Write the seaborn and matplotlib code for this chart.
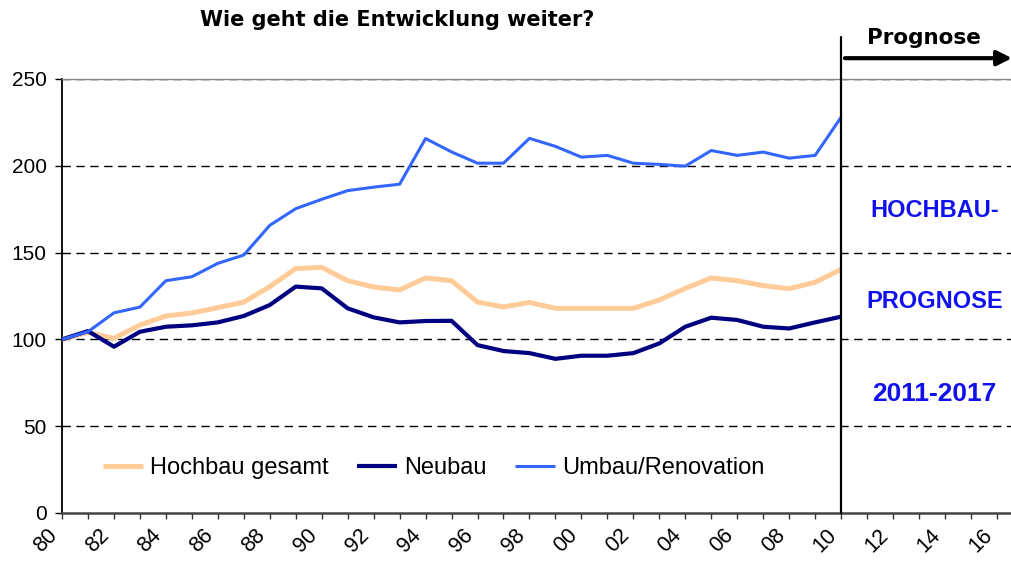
import numpy as np
import pandas as pd
import matplotlib
matplotlib.use("Agg")
import matplotlib.pyplot as plt
import seaborn as sns

years = list(range(1980, 2011))
hochbau = [100, 104, 100.6, 108.3, 113.5, 115.2, 118.3, 121.5, 130.4, 140.8, 141.5,
           133.8, 130.2, 128.5, 135.4, 133.8, 121.5, 118.7, 121.3, 117.9, 117.9,
           117.9, 117.9, 122.7, 129.4, 135.4, 133.8, 131.0, 129.2, 132.9, 140.4]
neubau = [100, 104.8, 95.8, 104.4, 107.3, 108.1, 109.8, 113.5, 119.8, 130.4, 129.4,
          117.9, 112.7, 109.8, 110.6, 110.7, 96.7, 93.3, 92.1, 88.8, 90.6,
          90.6, 92.1, 97.7, 107.3, 112.5, 111.2, 107.3, 106.3, 109.8, 113.1]
umbau = [100, 104.4, 115.3, 118.6, 133.8, 136.1, 143.8, 148.6, 165.7, 175.3, 180.7,
         185.7, 187.7, 189.4, 215.7, 208.0, 201.5, 201.5, 215.8, 211.2, 205.0,
         206.0, 201.5, 200.8, 199.8, 208.8, 206.0, 207.9, 204.4, 206.0, 228.0]
series_names = ["Hochbau gesamt", "Neubau", "Umbau/Renovation"]
colors = ["#FFCC99", "#000080", "#3366FF"]
widths = [3.6, 3.0, 2.2]
yticks = [0, 50, 100, 150, 200, 250]
xlabel_years = list(range(1980, 2017, 2))
xminor_years = list(range(1981, 2017, 2))
prognose_start = 2010
side_texts = ["HOCHBAU-", "PROGNOSE", "2011-2017"]
side_y = [174.5, 122.1, 68.5]
side_sizes = [17, 17, 19]

df = pd.DataFrame({
    "Jahr": years * 3,
    "Index": hochbau + neubau + umbau,
    "Serie": [series_names[0]] * len(years) + [series_names[1]] * len(years) + [series_names[2]] * len(years),
})

sns.set_style("white")
plt.rcParams["font.family"] = ["Liberation Sans", "DejaVu Sans"]
plt.rcParams["text.color"] = "black"
plt.rcParams["xtick.color"] = "black"
plt.rcParams["ytick.color"] = "black"
plt.rcParams["axes.labelcolor"] = "black"

fig = plt.figure(figsize=(10.12, 5.65), dpi=100)
ax = fig.add_axes([62 / 1012, 1 - 513 / 565, 1 - 62 / 1012, (513 - 79) / 565])

for name, col, lw in zip(series_names, colors, widths):
    sns.lineplot(data=df[df["Serie"] == name], x="Jahr", y="Index", color=col,
                 linewidth=lw, ax=ax, label=name, legend=False, zorder=3,
                 solid_capstyle="butt")

ax.set_xlim(1980, 2016.58)
ax.set_ylim(0, 250)
ax.set_xlabel("")
ax.set_ylabel("")

# grid lines
for yv in yticks[1:]:
    ax.axhline(yv, color="black", lw=1.0, ls=(0, (6, 4)), zorder=1)

ax.set_yticks(yticks)
ax.set_yticklabels([str(v) for v in yticks])
ax.set_xticks(xlabel_years)
ax.set_xticklabels([f"{y % 100:02d}" for y in xlabel_years], rotation=45, ha="right", va="top")
ax.set_xticks(xminor_years, minor=True)
ax.tick_params(axis="y", which="major", direction="out", length=5, width=1, color="black",
               labelcolor="black", labelsize=15, pad=6, left=True)
ax.tick_params(axis="x", which="both", direction="out", length=4.5, width=1, color="#333333",
               labelcolor="black", labelsize=15.5, pad=4, bottom=True)

ax.spines["right"].set_visible(False)
ax.spines["top"].set_color("#888888")
ax.spines["top"].set_linewidth(1.0)
ax.spines["left"].set_color("black")
ax.spines["left"].set_linewidth(1.3)
ax.spines["bottom"].set_color("#444444")
ax.spines["bottom"].set_linewidth(1.8)

# forecast divider
ax.axvline(prognose_start, ymin=0, ymax=(513 - 37) / 434, color="black", lw=1.6,
           clip_on=False, zorder=4)
ax.annotate("", xy=(2016.58, 262), xytext=(2010.15, 262),
            arrowprops=dict(arrowstyle="-|>", lw=3, color="black", mutation_scale=22,
                            shrinkA=0, shrinkB=0),
            annotation_clip=False)
ax.text(2013.2, 273.6, "Prognose", ha="center", va="center", fontsize=15.5,
        fontweight="bold", family="DejaVu Sans", color="black", clip_on=False)

for t, yv, fs in zip(side_texts, side_y, side_sizes):
    ax.text(2013.6, yv, t, ha="center", va="center", fontsize=fs, fontweight="bold",
            color="#1111EE")

fig.text(397 / 1012, 1 - 20 / 565, "Wie geht die Entwicklung weiter?", ha="center",
         va="center", fontsize=15, fontweight="bold", family="DejaVu Sans", color="black")

handles, labels = ax.get_legend_handles_labels()
leg = fig.legend(handles, labels, loc="center left", bbox_to_anchor=(103 / 1012, 1 - 468 / 565),
                 ncol=3, frameon=False, fontsize=17, handlelength=1.7, handletextpad=0.3,
                 columnspacing=1.2, borderpad=0, borderaxespad=0)
for txt in leg.get_texts():
    txt.set_color("black")

fig.savefig("out.png", dpi=100)
